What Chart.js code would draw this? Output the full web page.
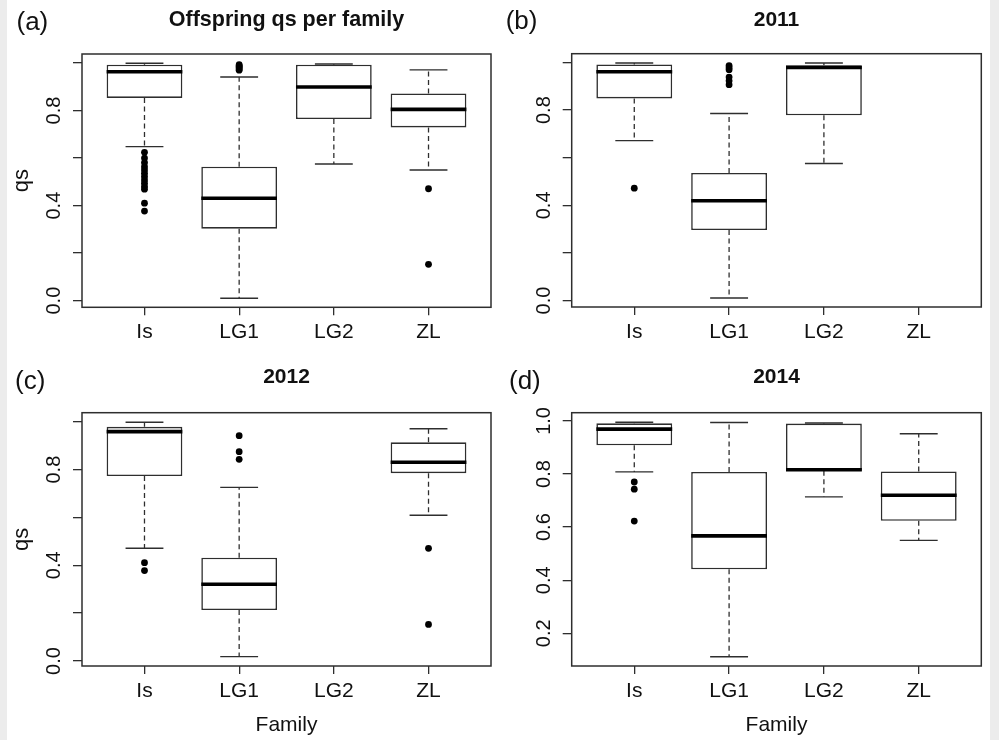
<!DOCTYPE html>
<html>
<head>
<meta charset="utf-8">
<script src="https://cdn.jsdelivr.net/npm/chart.js@4.4.1/dist/chart.umd.min.js"></script>
<style>
  html, body { margin: 0; padding: 0; background: #ececec; }
  #page { position: relative; width: 999px; height: 740px; overflow: hidden; background: #ececec; }
  #sheet { position: absolute; left: 7px; top: 0; width: 983px; height: 740px; background: #ffffff; }
  .panel { position: absolute; }
</style>
</head>
<body>
<div id="page">
  <div id="sheet"></div>
  <div class="panel" style="left:7px;top:0;width:492px;height:350px"><canvas id="panelA"></canvas></div>
  <div class="panel" style="left:499px;top:0;width:491px;height:350px"><canvas id="panelB"></canvas></div>
  <div class="panel" style="left:7px;top:350px;width:492px;height:390px"><canvas id="panelC"></canvas></div>
  <div class="panel" style="left:499px;top:350px;width:491px;height:390px"><canvas id="panelD"></canvas></div>
</div>
<script>
// Families on the x axis
const families = ['Is', 'LG1', 'LG2', 'ZL'];

// (a) Offspring qs per family — box statistics per family
const allLow  = [0.648, 0.010, 0.575, 0.550];
const allQ1   = [0.853, 0.303, 0.764, 0.729];
const allMed  = [0.963, 0.431, 0.899, 0.805];
const allQ3   = [0.993, 0.564, 0.993, 0.872];
const allHigh = [0.999, 0.941, 0.996, 0.971];
const allOut  = [
  [0.624, 0.600, 0.581, 0.564, 0.550, 0.536, 0.522, 0.508, 0.494, 0.480, 0.469, 0.410, 0.377],
  [0.993, 0.989, 0.985, 0.980, 0.975, 0.970],
  [],
  [0.471, 0.153]
];

// (b) 2011
const y11Low  = [0.672, 0.011, 0.576, null];
const y11Q1   = [0.849, 0.296, 0.778, null];
const y11Med  = [0.961, 0.419, 0.979, null];
const y11Q3   = [0.992, 0.536, 0.988, null];
const y11High = [0.998, 0.786, 0.998, null];
const y11Out  = [
  [0.472],
  [0.987, 0.978, 0.970, 0.939, 0.923, 0.907],
  [],
  []
];

// (c) 2012
const y12Low  = [0.471, 0.018, null, 0.609];
const y12Q1   = [0.773, 0.213, null, 0.785];
const y12Med  = [0.959, 0.321, null, 0.831];
const y12Q3   = [0.979, 0.432, null, 0.914];
const y12High = [0.998, 0.726, null, 0.971];
const y12Out  = [
  [0.411, 0.378],
  [0.942, 0.875, 0.843],
  [],
  [0.471, 0.153]
];

// (d) 2014
const y14Low  = [0.808, 0.112, 0.714, 0.550];
const y14Q1   = [0.908, 0.441, 0.812, 0.624];
const y14Med  = [0.969, 0.567, 0.816, 0.720];
const y14Q3   = [0.991, 0.808, 0.990, 0.810];
const y14High = [0.995, 0.994, 0.992, 0.952];
const y14Out  = [
  [0.770, 0.743, 0.623],
  [],
  [],
  []
];

// Axis ticks
const qsTicks = [0.0, 0.2, 0.4, 0.6, 0.8, 1.0];
const qsTickLabels = [0.0, 0.4, 0.8];
const qsTicks2014 = [0.2, 0.4, 0.6, 0.8, 1.0];
const qsTickLabels2014 = [0.2, 0.4, 0.6, 0.8, 1.0];

const FONT = "'Liberation Sans', Arial, Helvetica, sans-serif";
const INK = '#111111';
const LINE = '#2e2e2e';
const BOX_HALF = 0.4;     // half box width in category units
const STAPLE_HALF = 0.2;  // half whisker-cap width

// Frame around the plotting region and the panel letter
const framePlugin = {
  id: 'frameAndLetter',
  afterDraw(chart, args, opts) {
    const { ctx, chartArea: a } = chart;
    ctx.save();
    ctx.strokeStyle = LINE;
    ctx.lineWidth = 1.5;
    ctx.strokeRect(a.left, a.top, a.right - a.left, a.bottom - a.top);
    if (opts.letter) {
      ctx.fillStyle = INK;
      ctx.font = "26px " + FONT;
      ctx.textBaseline = 'middle';
      ctx.textAlign = 'left';
      ctx.fillText(opts.letter, opts.lx, opts.ly);
    }
    ctx.restore();
  }
};

function makeBoxChart(id, s) {
  const boxes = [], medians = [], whiskers = [], staples = [], points = [];
  families.forEach((f, i) => {
    const x = i + 1;
    if (s.q1[i] !== null) {
      boxes.push({ x: x, y: [s.q1[i], s.q3[i]] });
      medians.push({ x: x - BOX_HALF, y: s.med[i] }, { x: x + BOX_HALF, y: s.med[i] }, { x: x, y: null });
      whiskers.push({ x: x, y: s.q3[i] }, { x: x, y: s.high[i] }, { x: x, y: null },
                    { x: x, y: s.q1[i] }, { x: x, y: s.low[i] }, { x: x, y: null });
      staples.push({ x: x - STAPLE_HALF, y: s.high[i] }, { x: x + STAPLE_HALF, y: s.high[i] }, { x: x, y: null },
                   { x: x - STAPLE_HALF, y: s.low[i] }, { x: x + STAPLE_HALF, y: s.low[i] }, { x: x, y: null });
    }
    s.out[i].forEach(v => points.push({ x: x, y: v }));
  });

  const lineBase = { type: 'line', pointRadius: 0, fill: false, tension: 0, spanGaps: false, borderColor: LINE };

  return new Chart(document.getElementById(id), {
    type: 'bar',
    data: {
      datasets: [
        { ...lineBase, data: whiskers, borderWidth: 1.3, borderDash: [5, 3.5], order: 5 },
        { type: 'bar', data: boxes, backgroundColor: '#ffffff', borderColor: LINE, borderWidth: 1.6,
          borderSkipped: false, barPercentage: 1, categoryPercentage: 0.8, order: 4 },
        { ...lineBase, data: staples, borderWidth: 1.4, order: 3 },
        { ...lineBase, data: medians, borderWidth: 3.6, borderColor: '#000000', borderCapStyle: 'butt', order: 2 },
        { type: 'scatter', data: points, pointRadius: 3.4, pointBackgroundColor: '#000000',
          pointBorderWidth: 0, order: 1 }
      ]
    },
    options: {
      responsive: true,
      maintainAspectRatio: false,
      animation: false,
      events: [],
      layout: { padding: { left: 0, right: s.padRight, top: 0, bottom: 0 } },
      plugins: {
        legend: { display: false },
        tooltip: { enabled: false },
        title: {
          display: true,
          text: s.title,
          fullSize: false,
          color: INK,
          font: { family: FONT, size: s.titleSize, weight: 'bold' },
          padding: { top: s.titleTop, bottom: s.titleBottom }
        },
        frameAndLetter: { letter: s.letter, lx: s.lx, ly: s.ly }
      },
      scales: {
        x: {
          type: 'linear',
          min: 0.34,
          max: 4.66,
          offset: false,
          border: { display: false },
          grid: { offset: false, drawOnChartArea: false, drawTicks: true, tickLength: 8, color: LINE, lineWidth: 1.3 },
          afterBuildTicks: sc => { sc.ticks = families.map((f, i) => ({ value: i + 1 })); },
          ticks: {
            autoSkip: false,
            maxRotation: 0,
            minRotation: 0,
            padding: 4.5,
            color: INK,
            font: { family: FONT, size: 21 },
            callback: v => families[Math.round(v) - 1]
          },
          title: {
            display: s.xTitle,
            text: 'Family',
            color: INK,
            font: { family: FONT, size: 21 },
            padding: { top: 0, bottom: 2 }
          },
          afterFit: sc => { sc.height = s.xHeight; }
        },
        y: {
          type: 'linear',
          min: s.yMin,
          max: s.yMax,
          border: { display: false },
          grid: { drawOnChartArea: false, drawTicks: true, tickLength: 9, color: LINE, lineWidth: 1.3 },
          afterBuildTicks: sc => { sc.ticks = s.yTicks.map(v => ({ value: v })); },
          ticks: {
            autoSkip: false,
            minRotation: 90,
            maxRotation: 90,
            crossAlign: 'center',
            padding: 4.5,
            color: INK,
            font: { family: FONT, size: 20 },
            callback: v => s.yLabels.some(l => Math.abs(l - v) < 1e-9) ? v.toFixed(1) : ''
          },
          title: {
            display: s.yTitle,
            text: 'qs',
            color: INK,
            font: { family: FONT, size: 22 },
            padding: { top: 1.5, bottom: 0 }
          },
          afterFit: sc => { sc.width = s.yWidth; }
        }
      }
    },
    plugins: [framePlugin]
  });
}

makeBoxChart('panelA', {
  low: allLow, q1: allQ1, med: allMed, q3: allQ3, high: allHigh, out: allOut,
  title: 'Offspring qs per family', titleSize: 21.5, letter: '(a)', lx: 9.5, ly: 22.5,
  yMin: -0.028, yMax: 1.038, yTicks: qsTicks, yLabels: qsTickLabels,
  yTitle: true, xTitle: false, yWidth: 75, xHeight: 42.7, padRight: 8,
  titleTop: 7.6, titleBottom: 20.6
});

makeBoxChart('panelB', {
  low: y11Low, q1: y11Q1, med: y11Med, q3: y11Q3, high: y11High, out: y11Out,
  title: '2011', titleSize: 21, letter: '(b)', lx: 6.7, ly: 21.5,
  yMin: -0.027, yMax: 1.037, yTicks: qsTicks, yLabels: qsTickLabels,
  yTitle: false, xTitle: false, yWidth: 72.7, xHeight: 43, padRight: 8.7,
  titleTop: 7.9, titleBottom: 20.6
});

makeBoxChart('panelC', {
  low: y12Low, q1: y12Q1, med: y12Med, q3: y12Q3, high: y12High, out: y12Out,
  title: '2012', titleSize: 21, letter: '(c)', lx: 8, ly: 31.5,
  yMin: -0.021, yMax: 1.038, yTicks: qsTicks, yLabels: qsTickLabels,
  yTitle: true, xTitle: true, yWidth: 75, xHeight: 74, padRight: 8,
  titleTop: 14.9, titleBottom: 22.6
});

makeBoxChart('panelD', {
  low: y14Low, q1: y14Q1, med: y14Med, q3: y14Q3, high: y14High, out: y14Out,
  title: '2014', titleSize: 21, letter: '(d)', lx: 10, ly: 32,
  yMin: 0.077, yMax: 1.031, yTicks: qsTicks2014, yLabels: qsTickLabels2014,
  yTitle: false, xTitle: true, yWidth: 72.7, xHeight: 74, padRight: 8.7,
  titleTop: 14.9, titleBottom: 22.6
});
</script>
</body>
</html>
